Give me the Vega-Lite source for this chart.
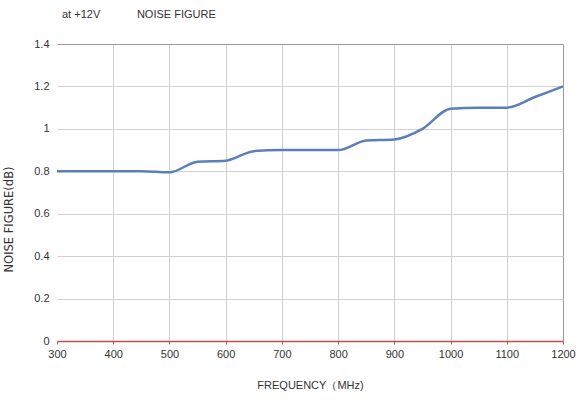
{
  "$schema": "https://vega.github.io/schema/vega-lite/v6.json",
  "width": 506,
  "height": 297,
  "autosize": {"type": "none"},
  "padding": {"left": 57, "top": 44, "right": 14, "bottom": 62},
  "background": "white",
  "config": {
    "view": {"stroke": null},
    "font": "Liberation Sans",
    "axis": {"labelFont": "Liberation Sans", "titleFont": "Liberation Sans", "labelColor": "#333", "titleColor": "#333", "labelFontSize": 11, "titleFontSize": 11, "titleFontWeight": "normal"}
  },
  "title": {"text": "at +12V\u00a0\u00a0\u00a0\u00a0\u00a0\u00a0\u00a0\u00a0\u00a0\u00a0\u00a0\u00a0NOISE FIGURE", "anchor": "start", "dx": 59, "offset": 18, "fontSize": 11, "fontWeight": "normal", "color": "#333", "font": "Liberation Sans"},
  "data": {"values": [
    {"f": 300, "nf": 0.8}, {"f": 350, "nf": 0.8}, {"f": 400, "nf": 0.8}, {"f": 450, "nf": 0.8},
    {"f": 500, "nf": 0.795}, {"f": 550, "nf": 0.845}, {"f": 600, "nf": 0.85}, {"f": 650, "nf": 0.895},
    {"f": 700, "nf": 0.9}, {"f": 750, "nf": 0.9}, {"f": 800, "nf": 0.9}, {"f": 850, "nf": 0.945},
    {"f": 900, "nf": 0.95}, {"f": 950, "nf": 1.0}, {"f": 1000, "nf": 1.095}, {"f": 1050, "nf": 1.1},
    {"f": 1100, "nf": 1.1}, {"f": 1150, "nf": 1.15}, {"f": 1200, "nf": 1.2}
  ]},
  "mark": {"type": "line", "interpolate": "monotone", "color": "#5b7fbc", "strokeWidth": 2.5},
  "encoding": {
    "x": {"field": "f", "type": "quantitative", "scale": {"domain": [300, 1200], "nice": false},
      "axis": {"values": [300,400,500,600,700,800,900,1000,1100,1200], "format": "d", "labelFlush": false, "title": "FREQUENCY（MHz)", "titlePadding": 20,
        "domainColor": "#c0504d", "domainWidth": 1.5, "ticks": true, "tickColor": "#c0504d", "tickSize": 3, "labelPadding": 4, "grid": true,
        "gridColor": {"condition": [{"test": "datum.value == 300", "value": "transparent"}, {"test": "datum.value == 1200", "value": "#999"}], "value": "#d0d0d0"}}},
    "y": {"field": "nf", "type": "quantitative", "scale": {"domain": [0, 1.4], "nice": false},
      "axis": {"values": [0,0.2,0.4,0.6,0.8,1,1.2,1.4], "format": "~g", "labelFlush": false, "title": "NOISE FIGURE(dB)", "domain": false, "ticks": false, "labelPadding": 8,
        "titleFont": "DejaVu Sans", "titleFontSize": 11.5,
        "titleX": -43, "titleY": 175, "titleAlign": "center",
        "gridColor": {"condition": {"test": "datum.value == 1.4", "value": "#999"}, "value": "#d0d0d0"}}}
  }
}
